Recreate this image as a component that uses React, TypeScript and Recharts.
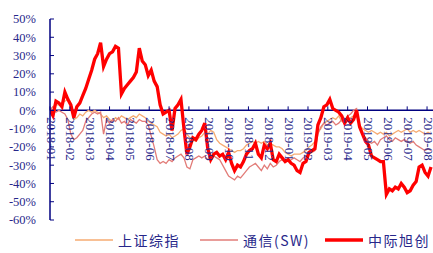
import React from 'react';
import { LineChart, Line, XAxis, YAxis, ReferenceLine } from 'recharts';

// Trading-day sampling step (every 3rd trading day from 2018-01-02)
const DAY_STEP = 3;

const TICK_LABELS = [
  '2018-01', '2018-02', '2018-03', '2018-04', '2018-05', '2018-06', '2018-07',
  '2018-08', '2018-09', '2018-10', '2018-11', '2018-12', '2019-01', '2019-02',
  '2019-03', '2019-04', '2019-05', '2019-06', '2019-07', '2019-08',
];
const TICK_EVERY = 20;

const Y_TICKS = [-60, -50, -40, -30, -20, -10, 0, 10, 20, 30, 40, 50];

const SERIES_NAMES = ['上证综指', '通信(SW)', '中际旭创'];

// 上证综指 (%)
const SH = [
  0, 2, 3, 3, 4, 5, 6, 2, -5, -4,
  -2, -3, -1, 0, -1, 0, -1, -2, -4, -3,
  -5, -6, -4, -5, -3, -4, -5, -4, -3, -4,
  -2, -3, -4, -6, -7, -8, -9, -12, -13, -14,
  -13, -15, -14, -13, -11, -10, -13, -15, -16, -17,
  -15, -14, -12, -13, -11, -12, -16, -18, -19, -20,
  -21, -22, -23, -22, -22, -21, -19, -18, -17, -18,
  -17, -18, -17, -19, -18, -19, -20, -20, -21, -23,
  -24, -25, -24, -24, -24, -23, -22, -20, -19, -17,
  -12, -10, -7, -6, -5, -4, -5, -3, -6, -7,
  -6, -4, -3, -2, -8, -10, -11, -12, -11, -12,
  -13, -12, -13, -12, -14, -13, -12, -11, -12, -11,
  -10, -12, -11, -12, -11, -12, -13, -12, -13,
];

// 通信(SW) (%)
const TX = [
  0, 2, -1, 0, -1, -2, -5, -13, -16, -15,
  -13, -11, -6, -4, -2, -1, -2, -1, -13, -5,
  -7, -5, -6, -4, -7, -6, -8, -5, -6, -7,
  -5, -6, -6, -8, -14, -20, -27, -29, -28, -29,
  -27, -28, -26, -25, -24, -26, -31, -32, -27, -26,
  -25, -26, -25, -27, -26, -25, -26, -27, -30, -33,
  -36, -37, -38, -36, -37, -35, -33, -31, -30, -29,
  -31, -33, -30, -32, -29, -31, -30, -28, -27, -27,
  -28, -27, -26, -27, -28, -26, -25, -24, -23, -22,
  -13, -9, -7, -8, -7, -6, -8, -7, -5, -6,
  -3, -2, 0, 1, -10, -13, -15, -17, -18, -17,
  -19, -16, -15, -14, -16, -17, -15, -16, -17, -16,
  -17, -18, -17, -19, -20, -21, -22, -21, -22,
];

// 中际旭创 (%)
const ZJ = [
  0, -3, 5, 4, 2, 10, 6, 3, -4, 2,
  4, 8, 12, 17, 22, 28, 31, 37, 24, 28,
  31, 32, 35, 34, 9, 12, 14, 16, 18, 21,
  34, 27, 25, 19, 22, 16, 13, 3, -2, -1,
  0, -11, 1, 3, 6, -10, -24, -20, -15, -16,
  -13, -11, -7, -21, -27, -24, -23, -25, -24, -27,
  -23, -29, -33, -30, -31, -28, -24, -22, -21, -18,
  -24, -26, -19, -21, -18, -27, -28, -24, -26, -28,
  -27, -29, -30, -33, -34, -29, -28, -23, -22, -21,
  -8, -4, 2, 3, 6, 1, 0, -1, -3, -7,
  -4, -7, -5, 0, -9, -13, -17, -19, -25, -26,
  -27, -28, -28, -46, -43, -44, -42, -43, -40, -42,
  -45, -44, -41, -39, -31, -30, -34, -36, -31,
];

const COLORS = ['#F6AB72', '#E27C78', '#FF0000'];
const WIDTHS = [1.3, 1.3, 3.3];
const KEYS = ['sh', 'tx', 'zj'];
const LEGEND_LINE_X = [75, 200, 325];

const AXIS = '#000080';
const TEXT = '#27278A';

const W = 433;
const H = 253;
const TOP = 19;
const X_AXIS_H = 33;
const PLOT_H = H - TOP - X_AXIS_H;
const Y_MIN = -60;
const Y_MAX = 50;
const ZERO_Y = TOP + (PLOT_H * Y_MAX) / (Y_MAX - Y_MIN);

const data = ZJ.map((_, i) => ({ d: i * DAY_STEP, sh: SH[i], tx: TX[i], zj: ZJ[i] }));

const XTick = (props: any) => {
  const { x, payload } = props;
  const label = TICK_LABELS[Math.round(payload.value / TICK_EVERY)];
  const lx = x - 3.5;
  const ly = ZERO_Y + 7;
  return (
    <g>
      <line x1={x} x2={x} y1={ZERO_Y} y2={ZERO_Y - 4} stroke={AXIS} strokeWidth={1} />
      <text
        x={lx}
        y={ly}
        transform={`rotate(90 ${lx} ${ly})`}
        fill={TEXT}
        fontSize={13}
        fontFamily="'Liberation Serif', 'Times New Roman', serif"
        textAnchor="start"
      >
        {label}
      </text>
    </g>
  );
};

const YTick = (props: any) => {
  const { x, y, payload } = props;
  return (
    <g>
      <line x1={x} x2={x + 4} y1={y} y2={y} stroke={AXIS} strokeWidth={1} />
      <text
        x={x - 14}
        y={y}
        dy="0.35em"
        fill={TEXT}
        fontSize={12.5}
        fontFamily="'Liberation Serif', 'Times New Roman', serif"
        textAnchor="end"
      >
        {`${payload.value}%`}
      </text>
    </g>
  );
};

export default function App() {
  return (
    <div style={{ position: 'absolute', left: 0, top: 0, width: W, height: H, background: '#fff', overflow: 'hidden' }}>
      <LineChart width={W} height={H} data={data} margin={{ top: TOP, right: 0, bottom: 0, left: 0 }}>
        <XAxis
          dataKey="d"
          type="number"
          domain={[0, 386]}
          ticks={TICK_LABELS.map((_, i) => i * TICK_EVERY)}
          height={X_AXIS_H}
          axisLine={false}
          tickLine={false}
          tickSize={0}
          tickMargin={0}
          tick={<XTick />}
          interval={0}
          allowDataOverflow
        />
        <YAxis
          type="number"
          domain={[Y_MIN, Y_MAX]}
          ticks={Y_TICKS}
          width={50}
          axisLine={{ stroke: AXIS, strokeWidth: 1.5 }}
          tickLine={false}
          tickSize={0}
          tickMargin={0}
          tick={<YTick />}
          interval={0}
          allowDataOverflow
        />
        <ReferenceLine y={0} stroke={AXIS} strokeWidth={1.5} ifOverflow="extendDomain" />
        {KEYS.map((k, i) => (
          <Line
            key={k}
            type="linear"
            dataKey={k}
            name={SERIES_NAMES[i]}
            stroke={COLORS[i]}
            strokeWidth={WIDTHS[i]}
            dot={false}
            isAnimationActive={false}
          />
        ))}
      </LineChart>
      {SERIES_NAMES.map((n, i) => (
        <div
          key={n}
          style={{
            position: 'absolute',
            left: LEGEND_LINE_X[i],
            top: 231,
            height: 18,
            display: 'flex',
            alignItems: 'center',
            fontFamily: "'Noto Sans CJK SC', sans-serif",
            fontSize: 14,
            letterSpacing: 1.5,
            color: TEXT,
            whiteSpace: 'nowrap',
          }}
        >
          <svg width={38} height={6} style={{ display: 'block' }}>
            <line x1={0} x2={38} y1={3} y2={3} stroke={COLORS[i]} strokeWidth={i === 2 ? 3.5 : 1.5} />
          </svg>
          <span style={{ marginLeft: 5, lineHeight: '18px' }}>{n}</span>
        </div>
      ))}
    </div>
  );
}
